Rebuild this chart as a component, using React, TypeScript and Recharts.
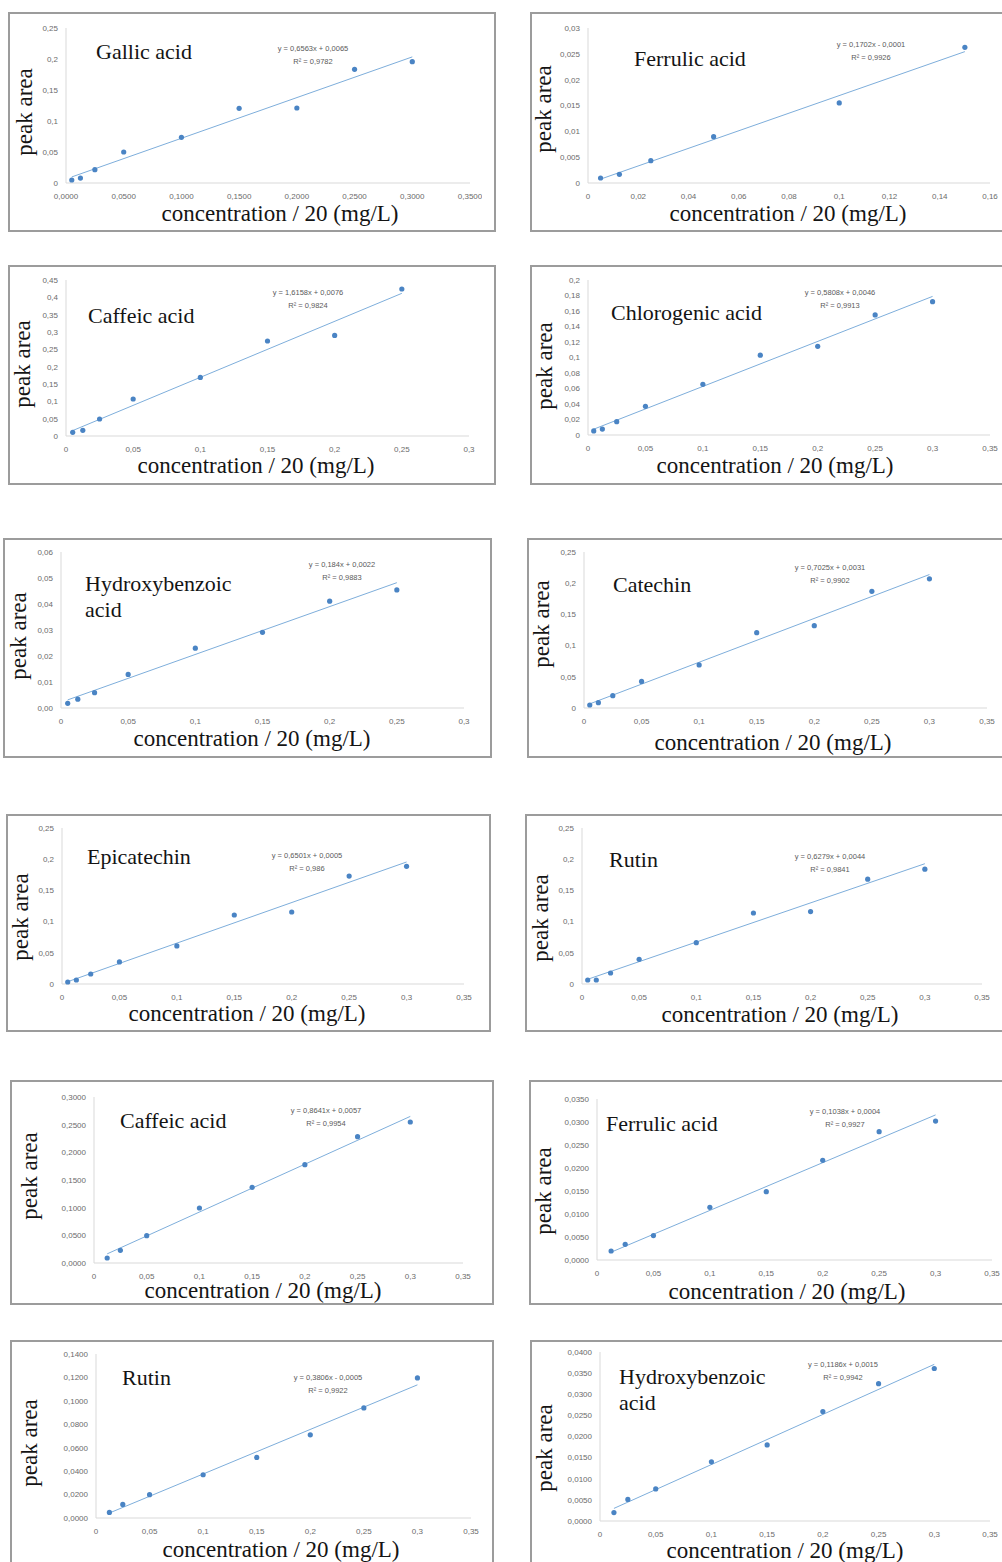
import React from "react";
import { ScatterChart, Scatter, XAxis, YAxis } from "recharts";

// concentrations (x)
const conc9 = [0.005, 0.0125, 0.025, 0.05, 0.1, 0.15, 0.2, 0.25, 0.3];
const conc8 = [0.005, 0.0125, 0.025, 0.05, 0.1, 0.15, 0.2, 0.25];
const conc6 = [0.005, 0.0125, 0.025, 0.05, 0.1, 0.15];
const concB = [0.0125, 0.025, 0.05, 0.1, 0.15, 0.2, 0.25, 0.3];

// peak areas (y)
const gallicArea = [0.0048, 0.008, 0.0215, 0.05, 0.0737, 0.1204, 0.121, 0.1833, 0.1957];
const ferrulicArea = [0.00097, 0.00168, 0.00432, 0.00897, 0.0155, 0.02626];
const caffeicArea = [0.0105, 0.0165, 0.049, 0.1067, 0.169, 0.274, 0.29, 0.424];
const chlorogenicArea = [0.0052, 0.0077, 0.0172, 0.037, 0.0654, 0.103, 0.1144, 0.155, 0.172];
const hydroxyArea = [0.0018, 0.0034, 0.0059, 0.0129, 0.023, 0.0291, 0.0411, 0.0454];
const catechinArea = [0.0048, 0.0085, 0.0197, 0.0426, 0.069, 0.1207, 0.132, 0.187, 0.207];
const epicatechinArea = [0.0032, 0.0064, 0.016, 0.0353, 0.061, 0.1106, 0.1154, 0.173, 0.1886];
const rutinArea = [0.0064, 0.0064, 0.0176, 0.0395, 0.0662, 0.1138, 0.116, 0.168, 0.184];
const caffeic2Area = [0.009, 0.0229, 0.0494, 0.0994, 0.1367, 0.1777, 0.2283, 0.2548];
const ferrulic2Area = [0.00196, 0.0034, 0.0053, 0.01145, 0.01486, 0.02167, 0.0279, 0.0302];
const rutin2Area = [0.0048, 0.0116, 0.0199, 0.0369, 0.0517, 0.071, 0.094, 0.1196];
const hydroxy2Area = [0.002, 0.0051, 0.0076, 0.014, 0.018, 0.0259, 0.0325, 0.0361];

// tick values
const xTicks35 = [0, 0.05, 0.1, 0.15, 0.2, 0.25, 0.3, 0.35];
const xTicks30 = [0, 0.05, 0.1, 0.15, 0.2, 0.25, 0.3];
const xTicks16 = [0, 0.02, 0.04, 0.06, 0.08, 0.1, 0.12, 0.14, 0.16];
const yTicks25 = [0, 0.05, 0.1, 0.15, 0.2, 0.25];
const yTicks03 = [0, 0.005, 0.01, 0.015, 0.02, 0.025, 0.03];
const yTicks45 = [0, 0.05, 0.1, 0.15, 0.2, 0.25, 0.3, 0.35, 0.4, 0.45];
const yTicks20 = [0, 0.02, 0.04, 0.06, 0.08, 0.1, 0.12, 0.14, 0.16, 0.18, 0.2];
const yTicks06 = [0, 0.01, 0.02, 0.03, 0.04, 0.05, 0.06];
const yTicks30 = [0, 0.05, 0.1, 0.15, 0.2, 0.25, 0.3];
const yTicks035 = [0, 0.005, 0.01, 0.015, 0.02, 0.025, 0.03, 0.035];
const yTicks14 = [0, 0.02, 0.04, 0.06, 0.08, 0.1, 0.12, 0.14];
const yTicks04 = [0, 0.005, 0.01, 0.015, 0.02, 0.025, 0.03, 0.035, 0.04];

// trend equations as printed
const slopes = [0.6563, 0.1702, 1.6158, 0.5808, 0.184, 0.7025, 0.6501, 0.6279, 0.8641, 0.1038, 0.3806, 0.1186];
const intercepts = [0.0065, -0.0001, 0.0076, 0.0046, 0.0022, 0.0031, 0.0005, 0.0044, 0.0057, 0.0004, -0.0005, 0.0015];
const eqLabels = [
  "y = 0,6563x + 0,0065", "y = 0,1702x - 0,0001", "y = 1,6158x + 0,0076", "y = 0,5808x + 0,0046",
  "y = 0,184x + 0,0022", "y = 0,7025x + 0,0031", "y = 0,6501x + 0,0005", "y = 0,6279x + 0,0044",
  "y = 0,8641x + 0,0057", "y = 0,1038x + 0,0004", "y = 0,3806x - 0,0005", "y = 0,1186x + 0,0015",
];
const r2Labels = ["0,9782", "0,9926", "0,9824", "0,9913", "0,9883", "0,9902", "0,986", "0,9841", "0,9954", "0,9927", "0,9922", "0,9942"];
const titles = [
  ["Gallic acid"], ["Ferrulic acid"], ["Caffeic acid"], ["Chlorogenic acid"],
  ["Hydroxybenzoic", "acid"], ["Catechin"], ["Epicatechin"], ["Rutin"],
  ["Caffeic acid"], ["Ferrulic acid"], ["Rutin"], ["Hydroxybenzoic", "acid"],
];

const panels = [
  { x: conc9, y: gallicArea, xT: xTicks35, yT: yTicks25, xDec: 4, yDec: null },
  { x: conc6, y: ferrulicArea, xT: xTicks16, yT: yTicks03, xDec: null, yDec: null },
  { x: conc8, y: caffeicArea, xT: xTicks30, yT: yTicks45, xDec: null, yDec: null },
  { x: conc9, y: chlorogenicArea, xT: xTicks35, yT: yTicks20, xDec: null, yDec: null },
  { x: conc8, y: hydroxyArea, xT: xTicks30, yT: yTicks06, xDec: null, yDec: 2 },
  { x: conc9, y: catechinArea, xT: xTicks35, yT: yTicks25, xDec: null, yDec: null },
  { x: conc9, y: epicatechinArea, xT: xTicks35, yT: yTicks25, xDec: null, yDec: null },
  { x: conc9, y: rutinArea, xT: xTicks35, yT: yTicks25, xDec: null, yDec: null },
  { x: concB, y: caffeic2Area, xT: xTicks35, yT: yTicks30, xDec: null, yDec: 4 },
  { x: concB, y: ferrulic2Area, xT: xTicks35, yT: yTicks035, xDec: null, yDec: 4 },
  { x: concB, y: rutin2Area, xT: xTicks35, yT: yTicks14, xDec: null, yDec: 4 },
  { x: concB, y: hydroxy2Area, xT: xTicks35, yT: yTicks04, xDec: null, yDec: 4 },
];

// page layout: frame [left, top, w, h], plot rect, text anchors
const layout = [
  { frame: [8, 12, 488, 220], plot: [66, 28, 470, 183], title: [96, 52], eq: [313, 49], yl: [25, 112], xl: [280, 214] },
  { frame: [530, 12, 476, 220], plot: [588, 28, 990, 183], title: [634, 59], eq: [871, 45], yl: [544, 109], xl: [788, 214] },
  { frame: [8, 265, 488, 220], plot: [66, 280, 469, 436], title: [88, 316], eq: [308, 293], yl: [23, 364], xl: [256, 466] },
  { frame: [530, 265, 476, 220], plot: [588, 280, 990, 435], title: [611, 313], eq: [840, 293], yl: [545, 366], xl: [775, 466] },
  { frame: [3, 538, 489, 220], plot: [61, 552, 464, 708], title: [85, 584], eq: [342, 565], yl: [19, 636], xl: [252, 739] },
  { frame: [527, 538, 479, 220], plot: [584, 552, 987, 708], title: [613, 585], eq: [830, 568], yl: [542, 624], xl: [773, 743] },
  { frame: [6, 814, 485, 218], plot: [62, 828, 464, 984], title: [87, 857], eq: [307, 856], yl: [21, 917], xl: [247, 1014] },
  { frame: [525, 814, 481, 218], plot: [582, 828, 982, 984], title: [609, 860], eq: [830, 857], yl: [541, 918], xl: [780, 1015] },
  { frame: [10, 1080, 484, 225], plot: [94, 1097, 463, 1263], title: [120, 1121], eq: [326, 1111], yl: [30, 1176], xl: [263, 1291] },
  { frame: [529, 1080, 477, 225], plot: [597, 1099, 992, 1260], title: [606, 1124], eq: [845, 1112], yl: [544, 1191], xl: [787, 1292] },
  { frame: [10, 1340, 484, 226], plot: [96, 1354, 471, 1518], title: [122, 1378], eq: [328, 1378], yl: [30, 1443], xl: [281, 1550] },
  { frame: [530, 1340, 476, 226], plot: [600, 1352, 990, 1521], title: [619, 1377], eq: [843, 1365], yl: [545, 1448], xl: [785, 1551] },
];

const fmt = (dec: number | null) => (v: number) =>
  dec === null ? String(parseFloat(v.toFixed(6))).replace(".", ",") : v.toFixed(dec).replace(".", ",");

const tickStyle = { fontSize: 8, fill: "#6b6b6b", fontFamily: "Liberation Sans, Arial, sans-serif" };
const serif = "'Liberation Serif', 'Times New Roman', serif";

function Panel({ i }: { i: number }) {
  const p = panels[i];
  const lay = layout[i];
  const [pl, pt, pr, pb] = lay.plot;
  const mL = 60, mT = 10, mR = 12, mB = 24;
  const pts = p.x.map((x, k) => ({ x, y: p.y[k] }));
  const x0 = p.x[0];
  const x1 = p.x[p.x.length - 1];
  const trend = [
    { x: x0, y: slopes[i] * x0 + intercepts[i] },
    { x: x1, y: slopes[i] * x1 + intercepts[i] },
  ];
  const t = titles[i];
  return (
    <>
      <div
        style={{
          position: "absolute", left: lay.frame[0], top: lay.frame[1], width: lay.frame[2], height: lay.frame[3],
          border: "2px solid #9c9c9c", boxSizing: "border-box", background: "#fff",
        }}
      />
      <div style={{ position: "absolute", left: pl - mL, top: pt - mT }}>
        <ScatterChart width={pr - pl + mL + mR} height={pb - pt + mT + mB} margin={{ top: mT, right: mR, bottom: 0, left: 0 }}>
          <XAxis
            type="number" dataKey="x" domain={[p.xT[0], p.xT[p.xT.length - 1]]} ticks={p.xT}
            tickFormatter={fmt(p.xDec)} height={mB} tickLine={false} tickMargin={4}
            axisLine={{ stroke: "#d9d9d9" }} tick={tickStyle} interval={0}
          />
          <YAxis
            type="number" dataKey="y" domain={[p.yT[0], p.yT[p.yT.length - 1]]} ticks={p.yT}
            tickFormatter={fmt(p.yDec)} width={mL} tickLine={false}
            axisLine={{ stroke: "#d9d9d9" }} tick={tickStyle} interval={0}
          />
          <Scatter data={trend} line={{ stroke: "#7eaedb", strokeWidth: 1 }} shape={() => <g />} isAnimationActive={false} />
          <Scatter
            data={pts}
            fill="#4a84c4"
            shape={(s: any) => <circle cx={s.cx} cy={s.cy} r={2.6} fill="#4a84c4" />}
            isAnimationActive={false}
          />
        </ScatterChart>
      </div>
      <div
        style={{
          position: "absolute", left: lay.title[0], top: lay.title[1] - 13, fontFamily: serif,
          fontSize: 22, lineHeight: "26px", color: "#141414", whiteSpace: "nowrap",
        }}
      >
        {t.map((line, k) => (
          <div key={k}>{line}</div>
        ))}
      </div>
      <div
        style={{
          position: "absolute", left: lay.eq[0], top: lay.eq[1] - 6, transform: "translateX(-50%)",
          fontFamily: "Liberation Sans, Arial, sans-serif", fontSize: 7.5, lineHeight: "12.5px",
          color: "#5a5a5a", textAlign: "center", whiteSpace: "nowrap",
        }}
      >
        <div>{eqLabels[i]}</div>
        <div>R² = {r2Labels[i]}</div>
      </div>
      <div
        style={{
          position: "absolute", left: lay.yl[0], top: lay.yl[1], transform: "translate(-50%, -50%) rotate(-90deg)",
          fontFamily: serif, fontSize: 23, color: "#141414", whiteSpace: "nowrap", lineHeight: "24px",
        }}
      >
        peak area
      </div>
      <div
        style={{
          position: "absolute", left: lay.xl[0], top: lay.xl[1], transform: "translate(-50%, -50%)",
          fontFamily: serif, fontSize: 23, color: "#141414", whiteSpace: "nowrap", lineHeight: "22px",
        }}
      >
        concentration / 20 (mg/L)
      </div>
    </>
  );
}

export default function App() {
  return (
    <div
      style={{
        position: "absolute", left: 0, top: 0, width: 1002, height: 1562, overflow: "hidden", background: "#fff",
      }}
    >
      {panels.map((_, i) => (
        <Panel key={i} i={i} />
      ))}
    </div>
  );
}
